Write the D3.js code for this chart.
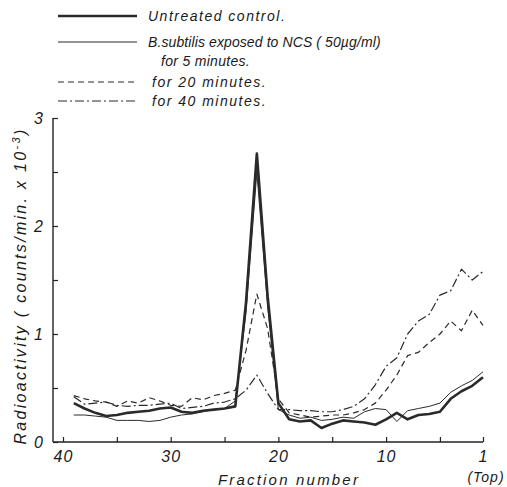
<!DOCTYPE html>
<html>
<head>
<meta charset="utf-8">
<script src="https://cdn.jsdelivr.net/npm/d3@7"></script>
<style>
  body { margin: 0; background: #fff; }
  svg { display: block; }
  text { font-family: "Liberation Sans", Arial, sans-serif; font-style: italic; fill: #1a1a1a; }
  .tick_labels { font-size: 16px; letter-spacing: 1px; }
  .legend_text { font-size: 14px; }
  .axis_labels { font-size: 16px; letter-spacing: 2.3px; }
  .curve { fill: none; stroke: #2a2a2a; stroke-linejoin: round; }
</style>
</head>
<body>
<svg id="svg-gradient" width="507" height="487"></svg>
<script>
// fraction numbers, bottom (39) to top (1)
var fractions = [39,38,37,36,35,34,33,32,31,30,29,28,27,26,25,24,23,22,21,20,
                 19,18,17,16,15,14,13,12,11,10,9,8,7,6,5,4,3,2,1];
// radioactivity, counts/min x 10^-3
var control = [0.36,0.31,0.27,0.24,0.25,0.27,0.28,0.29,0.31,0.32,0.28,0.27,0.29,0.30,0.31,0.33,1.30,2.67,1.35,0.36,
               0.21,0.19,0.20,0.13,0.17,0.20,0.19,0.18,0.16,0.21,0.27,0.21,0.25,0.26,0.28,0.40,0.47,0.52,0.60];
var ncs5 = [0.25,0.25,0.24,0.23,0.20,0.20,0.20,0.19,0.20,0.23,0.25,0.26,0.28,0.30,0.31,0.38,1.20,2.50,1.25,0.30,
            0.25,0.22,0.23,0.20,0.21,0.23,0.22,0.28,0.31,0.30,0.19,0.29,0.31,0.33,0.36,0.46,0.52,0.57,0.65];
var ncs20 = [0.43,0.40,0.38,0.37,0.33,0.38,0.36,0.41,0.38,0.34,0.33,0.41,0.39,0.43,0.45,0.48,0.85,1.37,1.05,0.40,
             0.27,0.25,0.23,0.24,0.25,0.25,0.27,0.30,0.36,0.48,0.62,0.80,0.83,0.92,1.00,1.12,1.03,1.22,1.08];
var ncs40 = [0.42,0.35,0.36,0.37,0.34,0.33,0.34,0.34,0.35,0.36,0.31,0.32,0.33,0.36,0.37,0.40,0.48,0.62,0.45,0.30,
             0.30,0.29,0.29,0.28,0.28,0.30,0.33,0.40,0.53,0.70,0.78,1.00,1.12,1.18,1.36,1.40,1.60,1.50,1.58];
var xTicks = [40,35,30,25,20,15,10,5,1];
var xLabels = [40,30,20,10,1];
var yTicks = [0,0.5,1,1.5,2,2.5,3];
var yLabels = [0,1,2,3];

var series = [
  {name:"control", values:control, width:2.6, dash:null},
  {name:"ncs5", values:ncs5, width:1, dash:null},
  {name:"ncs20", values:ncs20, width:1.2, dash:"6,4"},
  {name:"ncs40", values:ncs40, width:1.2, dash:"9,3,2,3"}
];
var legend = [
  {series:0, lines:[{text:"Untreated control.", dx:0, ls:1.5}]},
  {series:1, lines:[{text:"B.subtilis exposed to NCS ( 50\u00b5g/ml)", dx:0, ls:0.1},
                    {text:"for 5 minutes.", dx:13, ls:0.3}]},
  {series:2, lines:[{text:"for 20 minutes.", dx:4, ls:1.5}]},
  {series:3, lines:[{text:"for 40 minutes.", dx:4, ls:1.5}]}
];

var svg = d3.select("#svg-gradient");
var x_left = 53;
var xScale = d3.scaleLinear()
               .domain([40,1])
               .range([63, 483]);
var yScale = d3.scaleLinear()
               .domain([0,3])
               .range([442, 118]);

// axes
var xAxis = d3.axisBottom(xScale)
              .tickValues(xTicks)
              .tickSizeInner(-5)
              .tickSizeOuter(0)
              .tickPadding(9)
              .tickFormat(function(d) { return xLabels.indexOf(d) > -1 ? d : ""; });
svg.append("g")
    .attr("transform", "translate(0," + yScale(0) + ")")
    .call(xAxis);
var yAxis = d3.axisLeft(yScale)
              .tickValues(yTicks)
              .tickSizeInner(-5)
              .tickSizeOuter(0)
              .tickPadding(9)
              .tickFormat(function(d) { return yLabels.indexOf(d) > -1 ? d : ""; });
svg.append("g")
    .attr("transform", "translate(" + x_left + ",0)")
    .call(yAxis);
svg.selectAll(".domain").remove();
svg.selectAll(".tick line").style("stroke", "#222").style("stroke-width", 1.2);
svg.selectAll(".tick text")
    .attr("class", "tick_labels")
    .attr("font-family", null)
    .attr("font-size", null)
    .style("fill", "#1a1a1a");
svg.append("line")
    .attr("x1", x_left)
    .attr("x2", xScale(1))
    .attr("y1", yScale(0))
    .attr("y2", yScale(0))
    .style("stroke", "#222")
    .style("stroke-width", 1.4);
svg.append("line")
    .attr("x1", x_left)
    .attr("x2", x_left)
    .attr("y1", yScale(0))
    .attr("y2", yScale(3))
    .style("stroke", "#222")
    .style("stroke-width", 1.4);

// curves
var line = d3.line()
             .x(function(d) { return xScale(d.f); })
             .y(function(d) { return yScale(d.v); });
svg.selectAll("curves")
    .data(series)
    .enter()
    .append("path")
    .attr("class", "curve")
    .attr("d", function(s) {
      return line(fractions.map(function(f, i) { return {f:f, v:s.values[i]}; }));
    })
    .style("stroke-width", function(s) { return s.width; })
    .style("stroke-dasharray", function(s) { return s.dash; });

// axis labels
svg.append("text")
    .attr("class", "axis_labels")
    .attr("x", 289)
    .attr("y", 485)
    .style("text-anchor", "middle")
    .style("font-size", "15px")
    .style("letter-spacing", "2.2px")
    .text("Fraction number");
svg.append("text")
    .attr("class", "tick_labels")
    .attr("x", xScale(1) + 3)
    .attr("y", 482)
    .style("text-anchor", "middle")
    .style("font-size", "14px")
    .text("(Top)");
var ylab = svg.append("text")
    .attr("class", "axis_labels")
    .attr("transform", "translate(26,286) rotate(-90)")
    .style("text-anchor", "middle");
ylab.append("tspan").text("Radioactivity ( counts/min. x 10");
ylab.append("tspan").attr("dy", -6).style("font-size", "11px").text("-3");
ylab.append("tspan").attr("dy", 6).text(")");

// legend
var legendY = [16, 42, 82, 101];
var legendG = svg.selectAll("legend_items")
    .data(legend)
    .enter()
    .append("g")
    .attr("transform", function(d, i) { return "translate(0," + legendY[i] + ")"; });
legendG.append("line")
    .attr("x1", 58)
    .attr("x2", 137)
    .attr("y1", 0)
    .attr("y2", 0)
    .attr("class", "curve")
    .style("stroke-width", function(d) { return series[d.series].width; })
    .style("stroke-dasharray", function(d) { return series[d.series].dash; });
legendG.selectAll("text")
    .data(function(d) { return d.lines; })
    .enter()
    .append("text")
    .attr("class", "legend_text")
    .attr("x", function(d) { return 148 + d.dx; })
    .attr("y", function(d, i) { return 5 + i*19; })
    .style("letter-spacing", function(d) { return d.ls + "px"; })
    .text(function(d) { return d.text; });
</script>
</body>
</html>
